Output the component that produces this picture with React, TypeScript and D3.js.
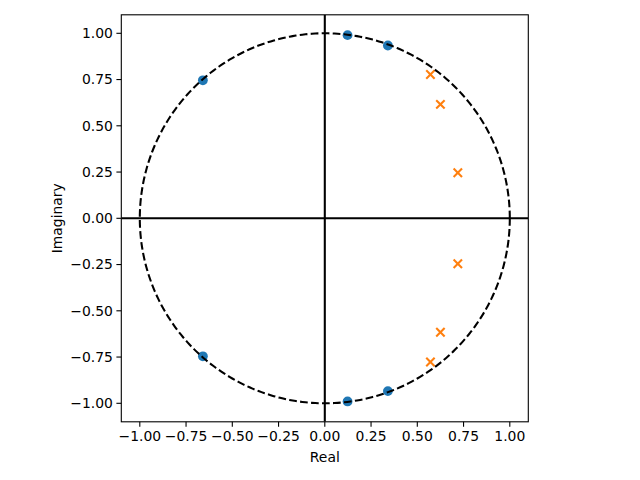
import React from 'react';
import * as d3 from "d3";

const width = 640;
const height = 480;
const plotLeft = 121.3;
const plotRight = 528.3;
const plotTop = 14.8;
const plotBottom = 421.8;

// zeros (blue dots) and poles (orange crosses)
const zeroRe = [0.123, 0.341, -0.659, 0.123, 0.341, -0.659];
const zeroIm = [0.99, 0.934, 0.746, -0.99, -0.934, -0.746];
const poleRe = [0.571, 0.625, 0.719, 0.571, 0.625, 0.719];
const poleIm = [0.777, 0.616, 0.246, -0.777, -0.616, -0.246];
const tickValues = [-1, -0.75, -0.5, -0.25, 0, 0.25, 0.5, 0.75, 1];

const x = d3.scaleLinear().domain([-1.1, 1.1]).range([plotLeft, plotRight]);
const y = d3.scaleLinear().domain([-1.1, 1.1]).range([plotBottom, plotTop]);

const fmt = (v: number) => d3.format(".2f")(v).replace("-", "\u2212");

const unitCircle = d3.line<number>()
  .x(t => x(Math.cos(t)))
  .y(t => y(Math.sin(t)));
const angles = d3.range(0, 361).map(d => d * Math.PI / 180);

const font = "DejaVu Sans, sans-serif";

const App = () => {
  const xs = 4.2;
  return (
    <svg width={width} height={height} style={{ position: "absolute", left: 0, top: 0 }}>
      <rect width={width} height={height} fill="white" />
      <defs>
        <clipPath id="plotclip">
          <rect x={plotLeft} y={plotTop} width={plotRight - plotLeft} height={plotBottom - plotTop} />
        </clipPath>
      </defs>
      <g clipPath="url(#plotclip)">
        {zeroRe.map((re, i) => (
          <circle key={"z" + i} cx={x(re)} cy={y(zeroIm[i])} r={4.9} fill="#1f77b4" />
        ))}
        {poleRe.map((re, i) => {
          const cx = x(re);
          const cy = y(poleIm[i]);
          return (
            <g key={"p" + i} stroke="#ff7f0e" strokeWidth={2.08}>
              <line x1={cx - xs} y1={cy - xs} x2={cx + xs} y2={cy + xs} />
              <line x1={cx - xs} y1={cy + xs} x2={cx + xs} y2={cy - xs} />
            </g>
          );
        })}
        <path d={unitCircle(angles) || ""} fill="none" stroke="black" strokeWidth={2.08} strokeDasharray="7.7,3.3" />
        <line x1={plotLeft} x2={plotRight} y1={y(0)} y2={y(0)} stroke="black" strokeWidth={2.08} />
        <line x1={x(0)} x2={x(0)} y1={plotTop} y2={plotBottom} stroke="black" strokeWidth={2.08} />
      </g>
      <rect x={plotLeft} y={plotTop} width={plotRight - plotLeft} height={plotBottom - plotTop}
        fill="none" stroke="black" strokeWidth={1.1} />
      {tickValues.map(v => (
        <g key={"xt" + v}>
          <line x1={x(v)} x2={x(v)} y1={plotBottom} y2={plotBottom + 4.9} stroke="black" strokeWidth={1.1} />
          <text x={x(v)} y={plotBottom + 19.5} textAnchor="middle" fontFamily={font} fontSize={13.9} fill="black">{fmt(v)}</text>
        </g>
      ))}
      {tickValues.map(v => (
        <g key={"yt" + v}>
          <line x1={plotLeft - 4.9} x2={plotLeft} y1={y(v)} y2={y(v)} stroke="black" strokeWidth={1.1} />
          <text x={plotLeft - 8.4} y={y(v)} dy="0.35em" textAnchor="end" fontFamily={font} fontSize={13.9} fill="black">{fmt(v)}</text>
        </g>
      ))}
      <text x={(plotLeft + plotRight) / 2} y={461.5} textAnchor="middle" fontFamily={font} fontSize={13.9} fill="black">Real</text>
      <text transform={`translate(61.5,${(plotTop + plotBottom) / 2}) rotate(-90)`} textAnchor="middle" fontFamily={font} fontSize={13.9} fill="black">Imaginary</text>
    </svg>
  );
};

export default App;
